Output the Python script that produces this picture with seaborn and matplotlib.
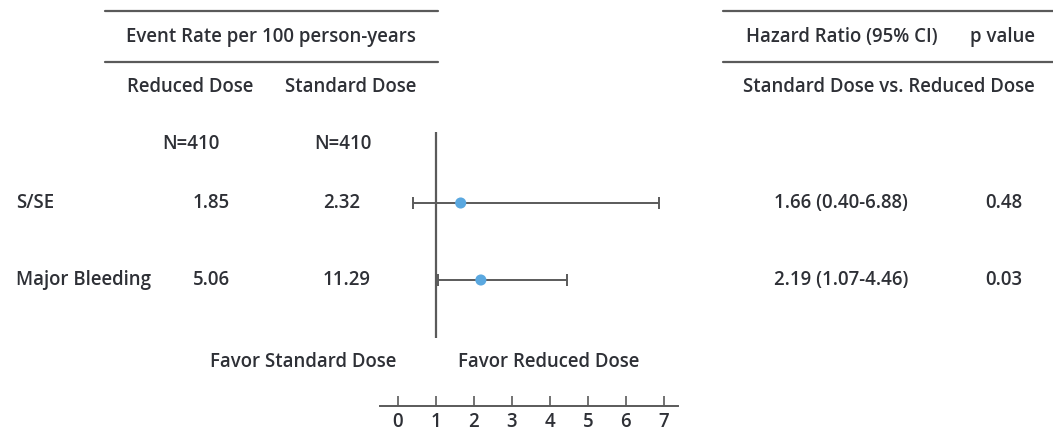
import matplotlib
matplotlib.use("Agg")
import matplotlib.pyplot as plt
from matplotlib.lines import Line2D
import seaborn as sns
import pandas as pd
import numpy as np

# ---- data ----
outcomes = ["S/SE", "Major Bleeding"]
rate_reduced = ["1.85", "5.06"]
rate_standard = ["2.32", "11.29"]
n_reduced = "N=410"
n_standard = "N=410"
hr = [1.66, 2.19]
hr_low = [0.40, 1.07]
hr_high = [6.88, 4.46]
p_values = ["0.48", "0.03"]
x_ticks = [0, 1, 2, 3, 4, 5, 6, 7]

sns.set_theme(style="white")
plt.rcParams["font.family"] = ["Open Sans", "DejaVu Sans"]

TXT = "#2e3036"
LINE = "#5a5a5a"
DOT = "#5aa8e0"
FS = 13.4
WEIGHT = 600

W, H = 1053, 432
fig = plt.figure(figsize=(W / 100, H / 100), dpi=100)


def fx(px):
    return px / W


def fy(py):
    return 1 - py / H


def txt(x, y, s, ha="center"):
    fig.text(fx(x), fy(y), s, ha=ha, va="center", fontsize=FS, color=TXT,
             fontweight=WEIGHT)


def hline(x0, x1, y):
    fig.add_artist(Line2D([fx(x0), fx(x1)], [fy(y), fy(y)], color=LINE, lw=1.6,
                          transform=fig.transFigure))


# ---- table headers ----
hline(105, 438, 11)
hline(105, 438, 62)
txt(271, 37, "Event Rate per 100 person-years")
txt(190, 87, "Reduced Dose")
txt(351, 87, "Standard Dose")

hline(723, 1053, 11)
hline(723, 1053, 62)
txt(842, 37, "Hazard Ratio (95% CI)")
txt(1002, 37, "p value")
txt(889, 87, "Standard Dose vs. Reduced Dose")

txt(191, 144, n_reduced)
txt(343, 144, n_standard)

# ---- table rows ----
row_px = [203, 280]
for i, yp in enumerate(row_px):
    txt(16, yp, outcomes[i], ha="left")
    txt(193, yp, rate_reduced[i], ha="left")
    txt(323, yp, rate_standard[i], ha="left")
    txt(841, yp, f"{hr[i]:.2f} ({hr_low[i]:.2f}-{hr_high[i]:.2f})")
    txt(1004, yp, p_values[i])

txt(303, 362, "Favor Standard Dose")
txt(549, 362, "Favor Reduced Dose")

# ---- forest plot ----
ax_l, ax_r, ax_t, ax_b = 380, 678, 132, 406
ax = fig.add_axes([fx(ax_l), fy(ax_b), fx(ax_r - ax_l), (ax_b - ax_t) / H])
ax.patch.set_alpha(0)

df = pd.DataFrame({"outcome": outcomes, "hr": hr, "lo": hr_low, "hi": hr_high,
                   "row": np.arange(len(outcomes))})

ax.errorbar(df["hr"], df["row"],
            xerr=[df["hr"] - df["lo"], df["hi"] - df["hr"]],
            fmt="none", ecolor=LINE, elinewidth=1.4, capsize=4, capthick=1.4,
            zorder=2)
sns.scatterplot(data=df, x="hr", y="row", color=DOT, s=64, edgecolor="none",
                ax=ax, zorder=3, legend=False)

unit = row_px[1] - row_px[0]
y_top = (ax_t - row_px[0]) / unit
y_bot = (ax_b - row_px[0]) / unit
ax.set_ylim(y_bot, y_top)
ax.set_xlim(-0.46, 7.37)
ax.vlines(1, y_top, (338 - row_px[0]) / unit, color=LINE, lw=1.6, zorder=1)

for s in ["top", "right", "left"]:
    ax.spines[s].set_visible(False)
ax.spines["bottom"].set_color(LINE)
ax.spines["bottom"].set_linewidth(1.4)
ax.set_yticks([])
ax.set_xticks(x_ticks)
ax.set_xticklabels([str(t) for t in x_ticks])
ax.tick_params(axis="x", direction="in", length=7, width=1.2, color=LINE,
               labelsize=FS, labelcolor=TXT, pad=4, bottom=True)
for lab in ax.get_xticklabels():
    lab.set_fontweight(WEIGHT)
ax.set_xlabel("")
ax.set_ylabel("")

fig.savefig("out.png", dpi=100)
